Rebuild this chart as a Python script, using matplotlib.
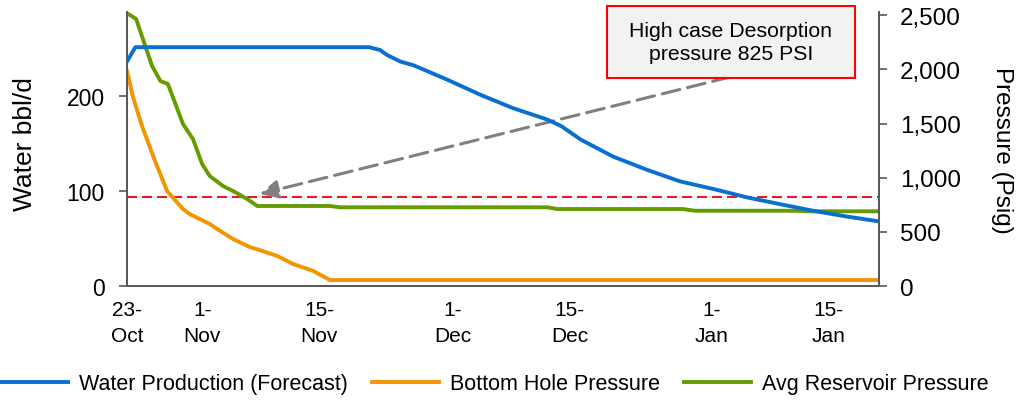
import numpy as np
import pandas as pd
import matplotlib
matplotlib.use("Agg")
import matplotlib.pyplot as plt
import matplotlib.dates as mdates
from matplotlib.patches import Rectangle

plt.rcParams['font.family'] = ['Liberation Sans', 'DejaVu Sans']

start = pd.Timestamp("2016-10-23")

# water forecast (bbl/d, left axis) - day offsets from 23-Oct
water_days = [0, 1, 29, 30.3, 31.1, 32.7, 34.3, 38.3, 42.3, 46.2, 50.3, 52, 54.3,
              58.2, 62.3, 66.2, 70.2, 74.3, 78.2, 82.2, 86.2, 90]
water_bbl = [236, 251, 251, 248, 243, 236, 232, 217, 201, 187, 175, 168, 154,
             136, 122, 110, 102, 93, 86, 79, 73, 68]

# bottom hole pressure (psig, right axis)
bhp_days = [0, 0.7, 1.8, 3.4, 4.8, 6.7, 7.5, 8.7, 9.9, 10.8, 12.7, 14.7, 15.9,
            18, 19.9, 22.3, 24.3, 90]
bhp_psi = [1985, 1750, 1477, 1145, 877, 711, 665, 619, 573, 526, 434, 360, 332,
           277, 203, 139, 55, 55]

# average reservoir pressure (psig, right axis)
res_days = [0, 1.1, 1.9, 3.0, 4.0, 4.9, 6.7, 7.9, 9.0, 9.9, 11.5, 12.7, 14.4,
            15.6, 24.3, 25.5, 50.3, 51.5, 66.5, 68, 80, 81.5, 90]
res_psi = [2520, 2465, 2281, 2031, 1893, 1865, 1496, 1357, 1126, 1016, 923, 877, 803,
           739, 739, 727, 727, 711, 711, 695, 695, 690, 690]

desorption_psi = 825
tick_dates = ["2016-10-23", "2016-11-01", "2016-11-15", "2016-12-01",
              "2016-12-15", "2017-01-01", "2017-01-15"]
tick_labels = ["23-\nOct", "1-\nNov", "15-\nNov", "1-\nDec", "15-\nDec", "1-\nJan", "15-\nJan"]

arrow_tail = (72.2, 1930)
arrow_head = (15.9, 850)


def to_dates(days):
    return start + pd.to_timedelta(np.array(days), unit="D")


blue = "#0A70D0"
orange = "#F29500"
green = "#669C00"
axis_col = "#595959"

fig = plt.figure(figsize=(10.16, 4.06), dpi=100)
ax = fig.add_axes([0.125, 0.293, 0.74, 0.675])
ax2 = ax.twinx()

ax2.axhline(desorption_psi, color="#E8192C", lw=1.5, dashes=(4.8, 2.4), zorder=1)
l2, = ax2.plot(to_dates(bhp_days), bhp_psi, color=orange, lw=2.8,
               label="Bottom Hole Pressure", solid_joinstyle="round")
l3, = ax2.plot(to_dates(res_days), res_psi, color=green, lw=2.8,
               label="Avg Reservoir Pressure", solid_joinstyle="round")
l1, = ax2.plot([], [], color=blue, lw=2.8, label="Water Production (Forecast)")
ax.plot(to_dates(water_days), water_bbl, color=blue, lw=2.8, solid_joinstyle="round")

# make water line sit on top
ax.set_zorder(ax2.get_zorder() + 1)
ax.patch.set_visible(False)

ax2.annotate("", xy=(mdates.date2num(start + pd.Timedelta(days=arrow_head[0])), arrow_head[1]),
             xytext=(mdates.date2num(start + pd.Timedelta(days=arrow_tail[0])), arrow_tail[1]),
             arrowprops=dict(arrowstyle="-|>", color="#808080", lw=2.2,
                             linestyle=(0, (5.9, 2.6)), mutation_scale=28,
                             shrinkA=0, shrinkB=0))

ax.set_xlim(start, start + pd.Timedelta(days=90))
ax.set_ylim(0, 288)
ax2.set_ylim(0, 2530)
ax.set_yticks([0, 100, 200])
ax2.set_yticks([0, 500, 1000, 1500, 2000, 2500])
ax2.yaxis.set_major_formatter(matplotlib.ticker.FuncFormatter(lambda v, p: f"{int(v):,}"))

ax.set_xticks(pd.to_datetime(tick_dates))
ax.set_xticklabels(tick_labels, fontsize=15, linespacing=1.45)

for a in (ax, ax2):
    a.spines["top"].set_visible(False)
    for s in ("left", "right", "bottom"):
        a.spines[s].set_color(axis_col)
        a.spines[s].set_linewidth(1.3)

ax.tick_params(axis="x", length=0, pad=10)
ax.tick_params(axis="y", length=6, width=1.2, color=axis_col, labelsize=16.5, pad=10)
ax2.tick_params(axis="y", length=6, width=1.2, color=axis_col, labelsize=17.5, pad=9)

ax.set_ylabel("Water bbl/d", fontsize=19, va="center")
ax.yaxis.set_label_coords(-0.136, 0.52)
ax2.set_ylabel("Pressure (Psig)", fontsize=17.5, rotation=270, va="center")
ax2.yaxis.set_label_coords(1.164, 0.5)

# callout box
ax.add_patch(Rectangle((0.638, 0.759), 0.33, 0.263, transform=ax.transAxes,
                       facecolor="#F2F2F2", edgecolor="#FF0000", lw=1.5,
                       clip_on=False, zorder=5))
ax.text(0.803, 0.891, "High case Desorption\npressure 825 PSI", transform=ax.transAxes,
        ha="center", va="center", fontsize=15.3, zorder=6, linespacing=1.25)

fig.legend(handles=[l1, l2, l3], loc="center", bbox_to_anchor=(0.487, 0.052),
           ncol=3, frameon=False, fontsize=15.5, handlelength=3.1,
           handletextpad=0.5, columnspacing=1.15)

fig.savefig("out.png", dpi=100)
